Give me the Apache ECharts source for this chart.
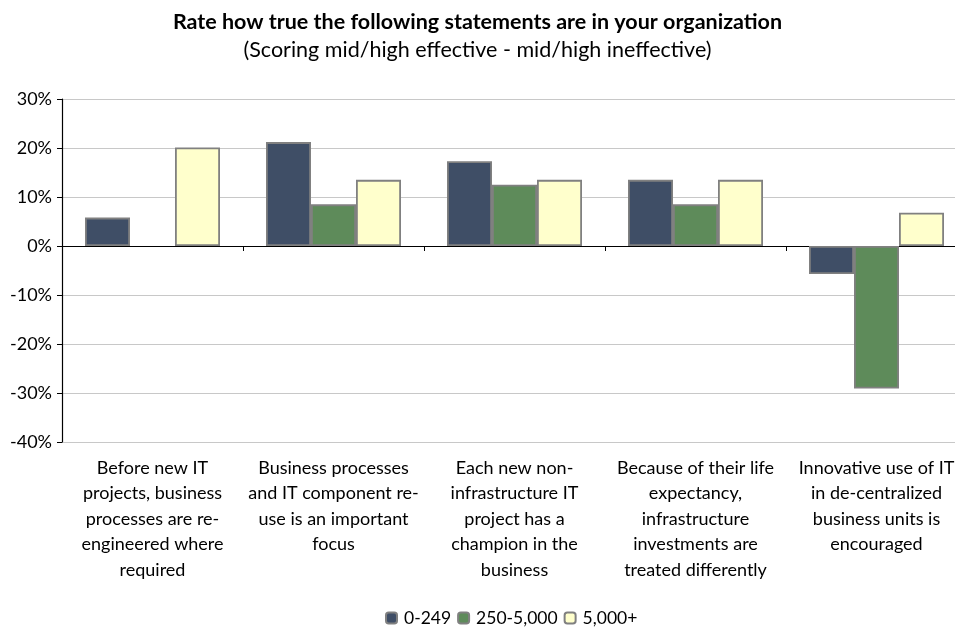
<!DOCTYPE html>
<html>
<head>
<meta charset="utf-8">
<script src="https://cdn.jsdelivr.net/npm/echarts@6/dist/echarts.min.js"></script>
<style>
  html, body { margin: 0; padding: 0; background: #ffffff; }
  #chart { width: 955px; height: 635px; }
</style>
</head>
<body>
<div id="chart"></div>
<script>
// Survey statements (category axis), broken into lines as displayed
const categories = [
  'Before new IT\nprojects, business\nprocesses are re-\nengineered where\nrequired',
  'Business processes\nand IT component re-\nuse is an important\nfocus',
  'Each new non-\ninfrastructure IT\nproject has a\nchampion in the\nbusiness',
  'Because of their life\nexpectancy,\ninfrastructure\ninvestments are\ntreated differently',
  'Innovative use of IT\nin de-centralized\nbusiness units is\nencouraged'
];

// Net score (%) by organization size; null = no response group shown
const seriesNames = ['0-249', '250-5,000', '5,000+'];
const small  = [5.8, 21.2, 17.3, 13.5, -5.7];
const medium = [null, 8.5, 12.5, 8.5, -29.1];
const large  = [20.1, 13.5, 13.5, 13.5, 6.8];

const yTicks = { min: -40, max: 30, interval: 10 };

const colors = ['#3F4E66', '#5E8B5A', '#FFFFCC'];
const FONT = 'Lato';

const chart = echarts.init(document.getElementById('chart'), null, { renderer: 'canvas' });

function barSeries(name, data, color) {
  return {
    name: name,
    type: 'bar',
    xAxisIndex: 0,
    data: data,
    barWidth: 45,
    barGap: '0%',
    itemStyle: { color: color, borderColor: '#808080', borderWidth: 1.8 },
    emphasis: { disabled: true }
  };
}

chart.setOption({
  animation: false,
  textStyle: { fontFamily: FONT },
  title: {
    text: 'Rate how true the following statements are in your organization',
    subtext: '(Scoring mid/high effective - mid/high ineffective)',
    left: 'center',
    top: 6,
    itemGap: 6,
    textStyle: { fontFamily: FONT, fontSize: 21.5, fontWeight: 'bold', color: '#000' },
    subtextStyle: { fontFamily: FONT, fontSize: 21.5, color: '#000' }
  },
  legend: {
    data: seriesNames,
    bottom: 3,
    left: 380,
    itemWidth: 11,
    itemHeight: 11,
    itemGap: 6,
    textStyle: { fontFamily: FONT, fontSize: 17.5, color: '#000', padding: [0, 0, 0, 2] }
  },
  // plot band runs slightly past the right edge of the canvas
  grid: {
    left: 62, top: 99, right: -12, bottom: 193,
    containLabel: false,
    outerBoundsMode: 'none'
  },
  xAxis: [
    {
      // category labels along the bottom of the plot
      type: 'category',
      data: categories,
      position: 'bottom',
      axisLine: { show: false, onZero: false },
      axisTick: { show: false },
      axisLabel: {
        interval: 0,
        margin: 13,
        fontFamily: FONT,
        fontSize: 18,
        lineHeight: 25.5,
        color: '#000',
        align: 'center'
      }
    },
    {
      // zero baseline with category boundary ticks
      type: 'category',
      data: categories,
      position: 'bottom',
      axisLine: { show: true, onZero: true, lineStyle: { color: '#000', width: 1.2 } },
      axisTick: { show: true, length: 5, inside: false, lineStyle: { color: '#000' } },
      axisLabel: { show: false }
    }
  ],
  yAxis: {
    type: 'value',
    min: yTicks.min,
    max: yTicks.max,
    interval: yTicks.interval,
    axisLine: { show: true, lineStyle: { color: '#000', width: 1.2 } },
    axisTick: { show: true, length: 5, lineStyle: { color: '#000' } },
    axisLabel: {
      formatter: '{value}%',
      fontFamily: FONT,
      fontSize: 18,
      color: '#000',
      margin: 10
    },
    splitLine: { show: true, lineStyle: { color: '#c8c8c8', width: 1 } }
  },
  series: [
    barSeries(seriesNames[0], small, colors[0]),
    barSeries(seriesNames[1], medium, colors[1]),
    barSeries(seriesNames[2], large, colors[2])
  ]
});
</script>
</body>
</html>
